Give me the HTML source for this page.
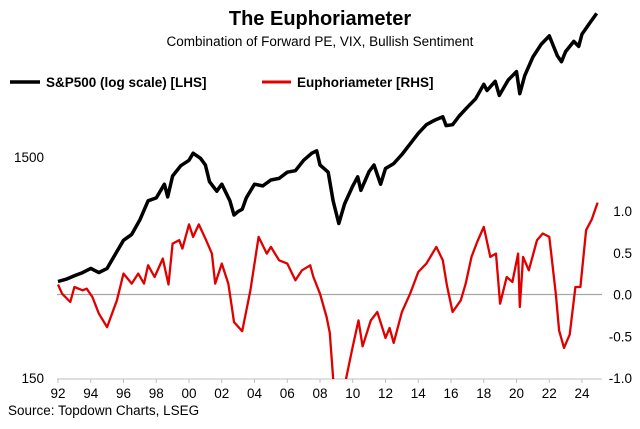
<!DOCTYPE html>
<html><head><meta charset="utf-8"><style>
html,body{margin:0;padding:0;background:#fff;}
svg{display:block;font-family:"Liberation Sans",Arial,sans-serif;}
</style></head><body>
<svg id="chart" width="640" height="429" viewBox="0 0 640 429">
<text x="320" y="25" text-anchor="middle" font-size="20" font-weight="bold" fill="#000">The Euphoriameter</text>
<text x="320" y="46" text-anchor="middle" font-size="13.5" fill="#000">Combination of Forward PE, VIX, Bullish Sentiment</text>
<g>
<line x1="10" y1="82" x2="40" y2="82" stroke="#000" stroke-width="3.5"/>
<text x="46" y="87" font-size="13.5" font-weight="bold">S&amp;P500 (log scale) [LHS]</text>
<line x1="262" y1="82" x2="291" y2="82" stroke="#e00000" stroke-width="3"/>
<text x="297" y="87" font-size="13.5" font-weight="bold">Euphoriameter [RHS]</text>
</g>
<defs><clipPath id="plotclip"><rect x="57" y="0" width="548" height="379"/></clipPath></defs>
<g id="axes"></g>
<g id="series" clip-path="url(#plotclip)"></g>
<text x="8" y="415" font-size="13.5" fill="#000">Source: Topdown Charts, LSEG</text>
</svg>
<script>
const spYears=[1992,1992.5,1993,1993.5,1994,1994.5,1995,1995.5,1996,1996.5,1997,1997.5,1998,1998.5,1998.7,1999,1999.5,2000,2000.25,2000.7,2001,2001.25,2001.7,2002,2002.5,2002.75,2003,2003.25,2003.5,2004,2004.5,2005,2005.5,2006,2006.5,2007,2007.5,2007.8,2008,2008.5,2008.8,2009.15,2009.5,2010,2010.3,2010.5,2011,2011.3,2011.7,2012,2012.5,2013,2013.5,2014,2014.5,2015,2015.5,2015.7,2016.1,2016.5,2017,2017.5,2018,2018.2,2018.7,2018.95,2019.5,2020,2020.2,2020.5,2021,2021.5,2022,2022.5,2022.75,2023,2023.5,2023.8,2024,2024.5,2024.9];
const spValues=[410,420,435,450,470,450,470,545,630,670,780,950,980,1130,990,1230,1370,1450,1560,1480,1380,1160,1050,1130,950,820,850,870,980,1130,1110,1180,1200,1280,1300,1450,1560,1600,1380,1280,950,750,920,1110,1220,1060,1290,1380,1130,1330,1400,1540,1720,1920,2100,2200,2280,2080,2100,2300,2520,2750,3200,3000,3300,2850,3350,3650,2900,3500,4250,4850,5300,4300,4050,4500,5000,4750,5400,6100,6700];
const euYears=[1992,1992.25,1992.75,1993,1993.5,1993.75,1994.1,1994.5,1995,1995.6,1996,1996.5,1996.9,1997.25,1997.5,1997.9,1998.4,1998.75,1999,1999.4,1999.6,2000,2000.25,2000.6,2001,2001.4,2001.6,2002,2002.4,2002.6,2002.75,2003.25,2003.75,2004.25,2004.75,2005,2005.5,2006,2006.5,2006.9,2007.4,2007.6,2008,2008.4,2008.6,2008.8,2009.0,2009.3,2009.6,2010,2010.35,2010.6,2011.1,2011.5,2012,2012.25,2012.5,2013,2013.5,2014,2014.5,2015.1,2015.5,2015.75,2016.1,2016.6,2016.9,2017.25,2017.6,2018,2018.4,2018.75,2019,2019.4,2019.75,2020.1,2020.2,2020.4,2020.75,2021.25,2021.6,2022,2022.4,2022.6,2022.9,2023.25,2023.6,2023.9,2024.25,2024.6,2024.95];
const euValues=[0.12,0.01,-0.09,0.09,0.05,0.07,-0.03,-0.23,-0.39,-0.07,0.25,0.13,0.25,0.13,0.35,0.21,0.43,0.12,0.61,0.65,0.55,0.84,0.69,0.84,0.67,0.49,0.13,0.37,0.13,-0.13,-0.33,-0.44,0.05,0.69,0.49,0.57,0.41,0.37,0.17,0.29,0.35,0.21,0.01,-0.27,-0.46,-1.0,-1.5,-1.6,-1.0,-0.62,-0.31,-0.62,-0.31,-0.21,-0.52,-0.4,-0.58,-0.21,0.01,0.27,0.37,0.57,0.41,0.11,-0.21,-0.07,0.13,0.45,0.63,0.81,0.45,0.49,-0.11,0.21,0.15,0.49,-0.15,0.45,0.29,0.65,0.73,0.69,0.01,-0.43,-0.64,-0.48,0.09,0.09,0.77,0.9,1.1];
const xTickLabels=['92','94','96','98','00','02','04','06','08','10','12','14','16','18','20','22','24'];
const leftTicks=[150,1500];
const rightTicks=[-1.0,-0.5,0.0,0.5,1.0];

const NS='http://www.w3.org/2000/svg';
const xScale=y=>58+(y-1992)*16.375;
const yLeft=v=>378-221*Math.log10(v/150);
const yRight=v=>294.5-83.5*v;
function mk(tag,attrs,parent){const e=document.createElementNS(NS,tag);for(const k in attrs)e.setAttribute(k,attrs[k]);parent.appendChild(e);return e;}
const axes=document.getElementById('axes');
const series=document.getElementById('series');

const zl=mk('line',{x1:57,x2:602,y1:yRight(0),y2:yRight(0),stroke:'#a6a6a6','stroke-width':1.2},axes);


const xa=mk('line',{x1:57,x2:602,y1:379,y2:379,stroke:'#bfbfbf','stroke-width':1},axes);



xTickLabels.forEach((lab,i)=>{
  const x=xScale(1992+2*i);
  const t=mk('line',{x1:x,x2:x,y1:379,y2:383,stroke:'#bfbfbf'},axes);
  
  
  const tx=mk('text',{x:x,y:398,'text-anchor':'middle','font-size':13.5,fill:'#000'},axes);
  tx.textContent=lab;
  
  
});
leftTicks.forEach(v=>{
  const tx=mk('text',{x:44,y:yLeft(v)+5,'text-anchor':'end','font-size':13.5,fill:'#000'},axes);
  tx.textContent=String(v);
  
  
});
rightTicks.forEach(v=>{
  const tx=mk('text',{x:632,y:yRight(v)+5,'text-anchor':'end','font-size':13.5,fill:'#000'},axes);
  tx.textContent=v.toFixed(1);
  
  
});

const spPts=spYears.map((y,i)=>xScale(y).toFixed(1)+','+yLeft(spValues[i]).toFixed(1)).join(' ');
const sp=mk('polyline',{points:spPts,fill:'none',stroke:'#000','stroke-width':3.5,'stroke-linejoin':'round'},series);


const euPts=euYears.map((y,i)=>xScale(y).toFixed(1)+','+yRight(euValues[i]).toFixed(1)).join(' ');
const eu=mk('polyline',{points:euPts,fill:'none',stroke:'#e00000','stroke-width':2.3,'stroke-linejoin':'round'},series);


</script>
</body></html>
